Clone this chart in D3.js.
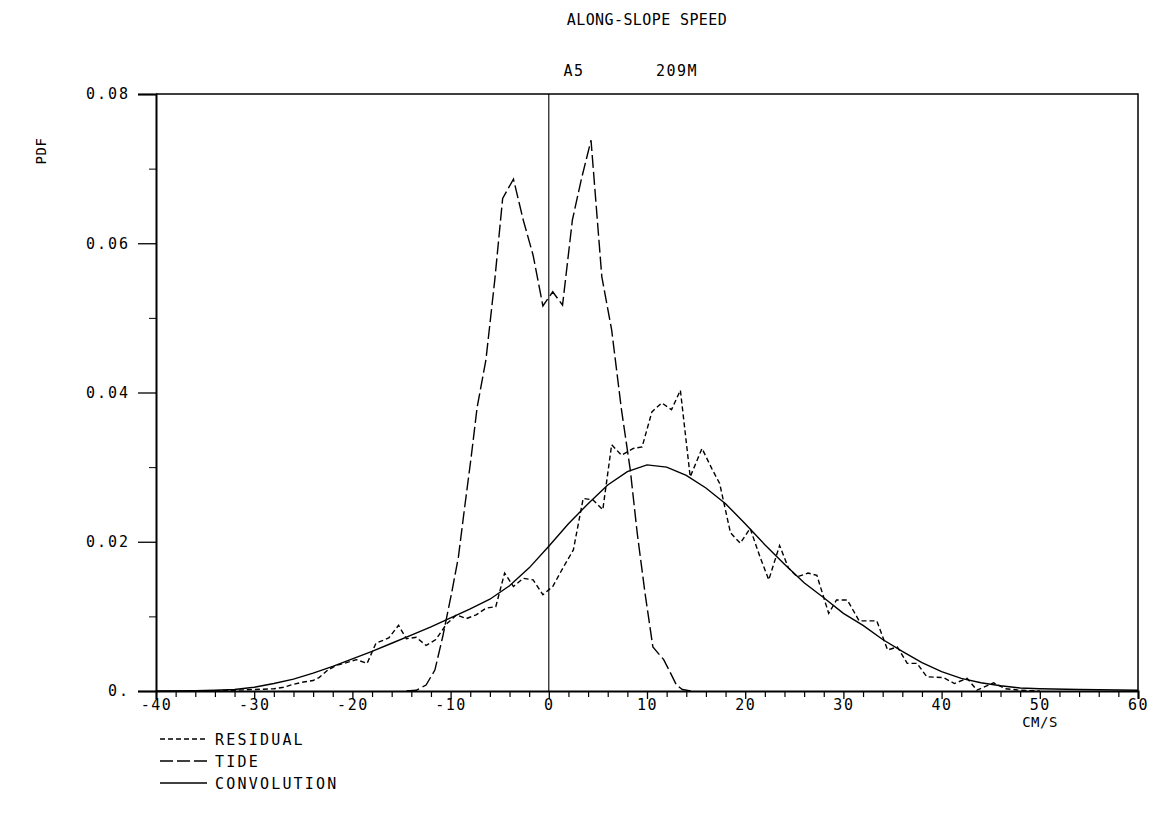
<!DOCTYPE html>
<html>
<head>
<meta charset="utf-8">
<script src="https://cdn.jsdelivr.net/npm/d3@7"></script>
<style>
  html, body { margin: 0; padding: 0; background: #fff; }
  svg { display: block; }
  text { font-family: "DejaVu Sans Mono", monospace; fill: #000; }
</style>
</head>
<body>
<svg id="chart" width="1153" height="828"></svg>
<script>
// ---------- data ----------
const title = "ALONG-SLOPE SPEED";
const stationLabel = "A5";
const depthLabel = "209M";
const xTickValues = [-40, -30, -20, -10, 0, 10, 20, 30, 40, 50, 60];
const yTickValues = [0, 0.02, 0.04, 0.06, 0.08];
const yTickLabels = ["0.", "0.02", "0.04", "0.06", "0.08"];
const legendLabels = ["RESIDUAL", "TIDE", "CONVOLUTION"];

// speed (cm/s), pdf
const residualX = [-34, -32, -30, -28, -27, -26, -25, -24, -23.4, -22.5, -21.7, -20.6, -19.6, -18.5, -17.6, -16.3, -15.3, -14.5, -13.5, -12.5, -11.5, -10.4, -9.4, -8.4, -7.4, -6.4, -5.4, -4.5, -3.6, -2.6, -1.6, -0.6, 0.4, 1.4, 2.5, 3.5, 4.5, 5.5, 6.4, 7.4, 8.6, 9.5, 10.5, 11.5, 12.5, 13.4, 14.4, 15.6, 16.6, 17.4, 18.5, 19.5, 20.5, 21.5, 22.4, 23.5, 24.4, 25.3, 26.4, 27.3, 28.5, 29.3, 30.4, 31.6, 33.4, 34.5, 35.5, 36.5, 37.5, 38.5, 40.2, 41.3, 42.6, 43.6, 45.3, 46.5, 48, 50];
const residualY = [0, 0.0001, 0.0002, 0.0003, 0.0005, 0.0009, 0.0012, 0.0014, 0.0018, 0.0028, 0.0034, 0.0038, 0.0042, 0.0037, 0.0064, 0.0071, 0.0088, 0.0070, 0.0072, 0.0061, 0.0069, 0.0090, 0.0102, 0.0097, 0.0102, 0.0111, 0.0113, 0.0158, 0.0140, 0.0151, 0.0149, 0.0129, 0.0140, 0.0164, 0.0189, 0.0258, 0.0256, 0.0243, 0.0330, 0.0316, 0.0325, 0.0327, 0.0374, 0.0386, 0.0377, 0.0403, 0.0287, 0.0325, 0.0298, 0.0278, 0.0212, 0.0198, 0.0218, 0.0180, 0.0149, 0.0195, 0.0165, 0.0153, 0.0158, 0.0155, 0.0104, 0.0122, 0.0122, 0.0094, 0.0094, 0.0055, 0.0059, 0.0037, 0.0037, 0.0019, 0.0018, 0.0010, 0.0017, 0.0001, 0.0011, 0.0003, 0.0001, 0];

const tideX = [-14.5, -13.5, -12.5, -11.6, -10.8, -9.9, -9.2, -8.6, -7.9, -7.3, -6.4, -5.5, -4.7, -3.6, -2.6, -1.6, -0.6, 0.4, 1.4, 2.4, 3.3, 4.3, 5.4, 6.4, 7.4, 8.3, 9.0, 9.8, 10.6, 11.7, 12.4, 13.0, 13.6, 14.5];
const tideY = [0, 0.0001, 0.0008, 0.0028, 0.0073, 0.0131, 0.0180, 0.0243, 0.0314, 0.0380, 0.0444, 0.0551, 0.0660, 0.0686, 0.0631, 0.0584, 0.0516, 0.0535, 0.0517, 0.0631, 0.0685, 0.0738, 0.0555, 0.0484, 0.0377, 0.0296, 0.0212, 0.0131, 0.0059, 0.0042, 0.0024, 0.0008, 0.0002, 0];

const convX = [-40, -36, -34, -32, -30, -28, -26, -24, -22, -20, -18, -16, -14, -12, -10, -8, -6, -4, -2, 0, 2, 4, 6, 8, 10, 12, 14, 16, 18, 20, 22, 24, 26, 28, 30, 32, 34, 36, 38, 40, 42, 44, 46, 48, 50, 54, 60];
const convY = [0, 0.00003, 0.0001, 0.0002, 0.0005, 0.0010, 0.0016, 0.0024, 0.0033, 0.0043, 0.0053, 0.0064, 0.0075, 0.0086, 0.0098, 0.0110, 0.0123, 0.0141, 0.0165, 0.0194, 0.0224, 0.0251, 0.0276, 0.0294, 0.0303, 0.0300, 0.0289, 0.0272, 0.0251, 0.0224, 0.0196, 0.0170, 0.0145, 0.0125, 0.0104, 0.0088, 0.0069, 0.0053, 0.0038, 0.0026, 0.0017, 0.0011, 0.0007, 0.0004, 0.0003, 0.0002, 0.0001];

// ---------- layout ----------
const svg = d3.select("#chart");
const pLeft = 156, pRight = 1138, pTop = 94, pBottom = 691;

const x = d3.scaleLinear().domain([-40, 60]).range([pLeft, pRight]);
const y = d3.scaleLinear().domain([0, 0.08]).range([pBottom, pTop]);

// frame (top & right)
svg.append("path")
  .attr("d", `M${pLeft},${pTop}H${pRight}V${pBottom}`)
  .attr("fill", "none").attr("stroke", "#000").attr("stroke-width", 1.5);

// zero vertical line
svg.append("line")
  .attr("x1", x(0)).attr("x2", x(0)).attr("y1", pTop).attr("y2", pBottom)
  .attr("stroke", "#000").attr("stroke-width", 1.1);

// y axis
const yAxis = d3.axisLeft(y).tickValues(yTickValues)
  .tickFormat((d, i) => yTickLabels[i]).tickSize(18).tickPadding(8);
const gy = svg.append("g").attr("transform", `translate(${pLeft},0)`).call(yAxis);
gy.select(".domain").attr("stroke-width", 2);
gy.selectAll(".tick line").attr("stroke-width", 1.3);
gy.selectAll(".tick text").style("font-family", "DejaVu Sans Mono")
  .style("font-size", "15px").style("letter-spacing", "2px");
const yMinor = d3.axisLeft(y).tickValues([0.01, 0.03, 0.05, 0.07]).tickSize(7).tickFormat("");
const gym = svg.append("g").attr("transform", `translate(${pLeft},0)`).call(yMinor);
gym.select(".domain").remove();

// x axis
const xMinor = d3.axisBottom(x).tickValues(d3.range(-38, 60, 2).filter(v => v % 10 !== 0))
  .tickSize(6).tickFormat("");
const gxm = svg.append("g").attr("transform", `translate(0,${pBottom})`).call(xMinor);
gxm.select(".domain").remove();
gxm.selectAll(".tick line").attr("stroke-width", 1.2);

const xAxis = d3.axisBottom(x).tickValues(xTickValues).tickSize(8).tickPadding(0)
  .tickFormat(d => d);
const gx = svg.append("g").attr("transform", `translate(0,${pBottom})`).call(xAxis);
gx.select(".domain").attr("stroke-width", 2);
gx.selectAll(".tick line").attr("stroke-width", 1.3);
gx.selectAll(".tick text").style("font-family", "DejaVu Sans Mono")
  .style("font-size", "15px").style("letter-spacing", "1.5px")
  .text(d => d < 0 ? "-" + Math.abs(d) : d);

// lines
const line = d3.line().x(d => x(d[0])).y(d => y(d[1]));
const residual = residualX.map((v, i) => [v, residualY[i]]);
const tide = tideX.map((v, i) => [v, tideY[i]]);
const conv = convX.map((v, i) => [v, convY[i]]);

const styles = [
  { data: residual, dash: "5,3" },
  { data: tide, dash: "13,4" },
  { data: conv, dash: null }
];
styles.forEach(s => {
  svg.append("path").datum(s.data).attr("d", line)
    .attr("fill", "none").attr("stroke", "#000").attr("stroke-width", 1.4)
    .attr("stroke-dasharray", s.dash);
});

// titles
svg.append("text").attr("x", 647).attr("y", 25).attr("text-anchor", "middle")
  .style("font-size", "15px").style("letter-spacing", "0.4px").text(title);
svg.append("text").attr("x", 574).attr("y", 76).attr("text-anchor", "middle")
  .style("font-size", "15px").style("letter-spacing", "1.5px").text(stationLabel);
svg.append("text").attr("x", 677).attr("y", 76).attr("text-anchor", "middle")
  .style("font-size", "15px").style("letter-spacing", "1.5px").text(depthLabel);

// axis labels
svg.append("text").attr("transform", "translate(46,151) rotate(-90)")
  .attr("text-anchor", "middle").style("font-size", "14px").style("letter-spacing", "0.5px").text("PDF");
svg.append("text").attr("x", 1040).attr("y", 727).attr("text-anchor", "middle")
  .style("font-size", "14px").style("letter-spacing", "0.5px").text("CM/S");

// legend
const legendDash = ["5,3", "13,4", null];
legendLabels.forEach((lab, i) => {
  const ly = 739 + i * 22;
  svg.append("line").attr("x1", 160).attr("x2", 207).attr("y1", ly).attr("y2", ly)
    .attr("stroke", "#000").attr("stroke-width", 1.3).attr("stroke-dasharray", legendDash[i]);
  svg.append("text").attr("x", 215).attr("y", ly + 5.5)
    .style("font-size", "15px").style("letter-spacing", "2.2px").text(lab);
});
</script>
</body>
</html>
